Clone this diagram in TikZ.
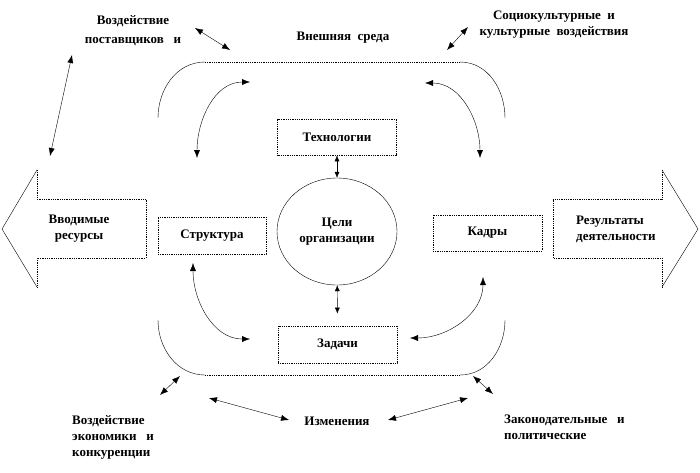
\documentclass[tikz,border=0pt]{standalone}
\usepackage{fontspec}
\setmainfont{Liberation Serif}
\usetikzlibrary{arrows.meta,shapes.geometric}
\begin{document}
\begin{tikzpicture}[x=1pt, y=1pt, thin, font=\bfseries\fontsize{13}{16}\selectfont,
    main/.style = {draw, densely dotted, line width=0.8pt, minimum width=119pt, minimum height=36pt, inner sep=0pt},
    txt/.style = {align=center, inner sep=0pt},
    both/.style = {{Latex[length=8pt,width=6pt]}-{Latex[length=8pt,width=6pt]}},
    small/.style = {{Latex[length=6pt,width=5pt]}-{Latex[length=6pt,width=5pt]}}]
\useasboundingbox (0,0) rectangle (700,-472);
\node[main] (1) at (337,-137) {Технологии};
\node[draw, ellipse, minimum width=120pt, minimum height=107pt, txt] (2) at (337,-231.5) {Цели\\организации};
\node[main, minimum width=108pt, minimum height=37pt] (3) at (212,-235.5) {Структура};
\node[main, minimum width=109pt] (4) at (487.5,-233) {Кадры};
\node[main, minimum height=37pt] (5) at (337.5,-344.5) {Задачи};
\node[txt] (6) at (79,-229) {Вводимые\\ресурсы};
\node[txt, align=left, anchor=west] (7) at (576,-229) {Результаты\\деятельности};
\node[txt] (8) at (133,-31) {Воздействие\\[3pt]поставщиков\ \ \ и};
\node[txt] (9) at (343,-38) {Внешняя\ \ среда};
\node[txt] (10) at (554,-25) {Социокультурные\ \ и\\культурные\ \ воздействия};
\node[txt, align=left, anchor=north west] (11) at (72,-415) {Воздействие\\экономики\ \ \ и\\конкуренции};
\node[txt] (12) at (337,-421) {Изменения};
\node[txt, align=left, anchor=north west] (13) at (504,-415) {Законодательные\ \ \ и\\политические};
\draw (158,-118) to[out=90, in=180] (205,-62);
\draw (460,-62) to[out=0, in=90] (505,-118);
\draw (158,-320) to[out=-90, in=180] (205,-375);
\draw (460,-375) to[out=0, in=-90] (505,-320);
\draw[densely dotted, line width=0.8pt] (205,-62) -- (460,-62) (205,-375) -- (460,-375);
\draw[densely dotted, line width=0.8pt] (37,-170) -- (37,-199) -- (146,-199) -- (146,-258) -- (37,-258) -- (37,-287);
\draw (37,-170) -- (2,-229) -- (37,-287);
\draw[densely dotted, line width=0.8pt] (662,-170) -- (662,-199) -- (553,-199) -- (553,-258) -- (662,-258) -- (662,-287);
\draw (662,-170) -- (698,-229) -- (662,-287);
\coordinate (a1) at (197,-158);
\coordinate (a2) at (250,-82);
\coordinate (a3) at (425,-83);
\coordinate (a4) at (480,-158);
\coordinate (a5) at (193,-263);
\coordinate (a6) at (250,-339);
\coordinate (a7) at (410,-338);
\coordinate (a8) at (483,-277);
\coordinate (b1) at (195,-28);
\coordinate (b2) at (230,-50);
\coordinate (b3) at (72,-55);
\coordinate (b4) at (50,-156);
\coordinate (b5) at (447,-50);
\coordinate (b6) at (468,-27);
\coordinate (b7) at (160,-395);
\coordinate (b8) at (180,-376);
\coordinate (b9) at (209,-398);
\coordinate (b10) at (289,-420);
\coordinate (b11) at (388,-420);
\coordinate (b12) at (468,-398);
\coordinate (b13) at (473,-376);
\coordinate (b14) at (493,-394);
\path[both]
(a1) edge[out=90, in=180] (a2) (a3) edge[out=0, in=90] (a4)
(a5) edge[out=-90, in=180] (a6) (a7) edge[out=0, in=-90] (a8)
(b1) edge (b2) (b3) edge (b4) (b5) edge (b6) (b7) edge (b8)
(b9) edge (b10) (b11) edge (b12) (b13) edge (b14);
\path[small]
(1) edge (2) (2) edge[shorten >=12pt] (5);
\end{tikzpicture}
\end{document}
